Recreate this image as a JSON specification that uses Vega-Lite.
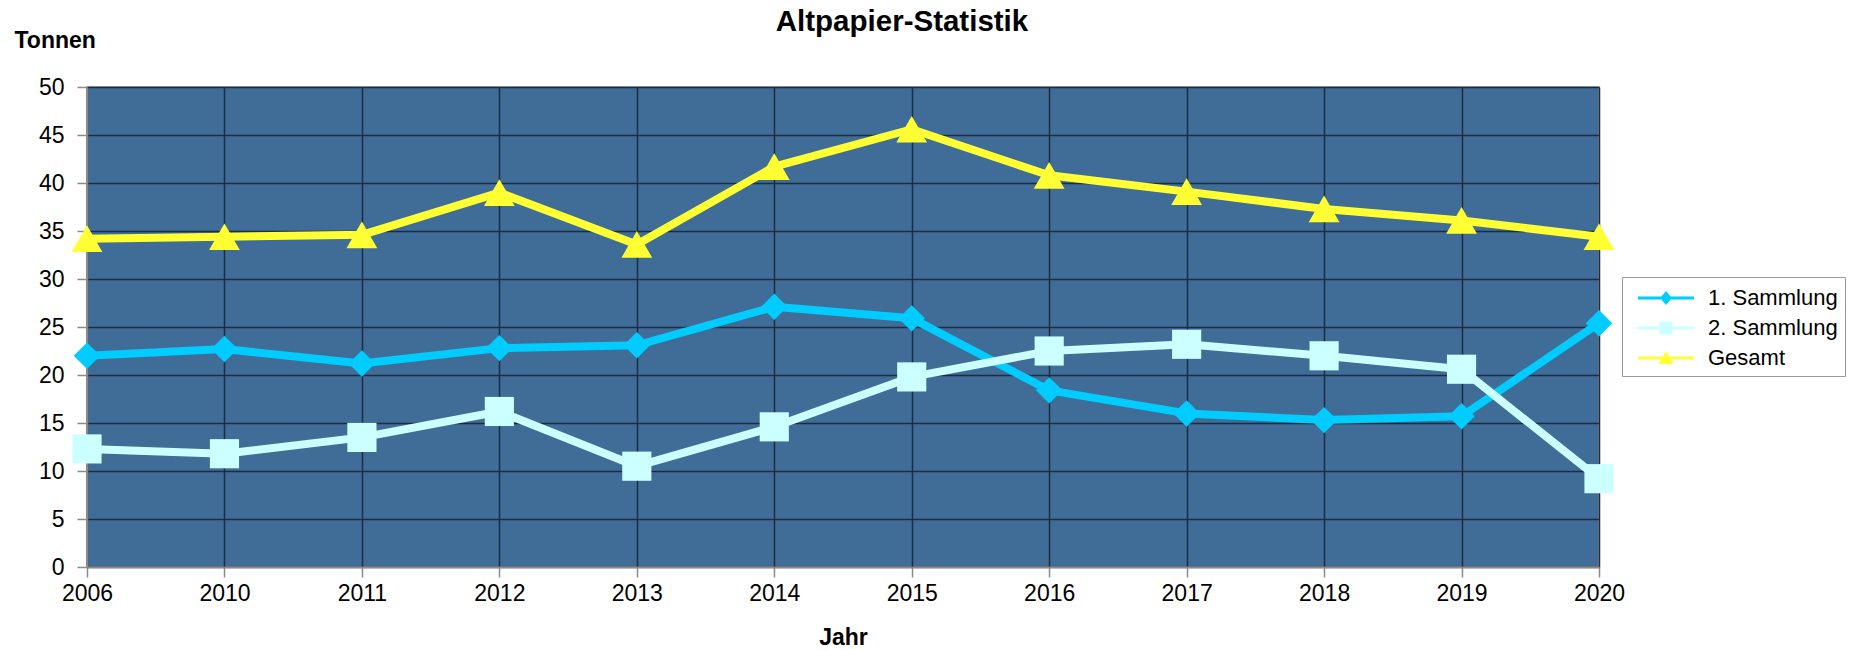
{
  "$schema": "https://vega.github.io/schema/vega-lite/v6.json",
  "width": 1512,
  "height": 480,
  "autosize": {"type": "none"},
  "padding": {"left": 87, "top": 87, "right": 263, "bottom": 83},
  "background": "white",
  "title": {
    "text": "Altpapier-Statistik",
    "font": "Liberation Sans",
    "fontSize": 29.5,
    "fontWeight": "bold",
    "color": "#000000",
    "anchor": "middle",
    "frame": "group",
    "dx": 59,
    "dy": 35,
    "baseline": "alphabetic",
    "offset": 4
  },
  "config": {
    "font": "Liberation Sans",
    "view": {"fill": "#3f6d97", "stroke": "#8a8a8a", "strokeWidth": 1.5},
    "axis": {
      "labelFont": "Liberation Sans",
      "labelFontSize": 23,
      "labelColor": "#000000",
      "titleFont": "Liberation Sans",
      "titleFontSize": 23,
      "titleFontWeight": "bold",
      "titleColor": "#000000",
      "gridColor": "#1c2d40",
      "gridWidth": 1.5,
      "gridOpacity": 1,
      "domainColor": "#8a8a8a",
      "domainWidth": 1.5,
      "tickColor": "#8a8a8a",
      "tickWidth": 1.5,
      "tickSize": 10
    }
  },
  "data": {
    "values": [
      {"Jahr": "2006", "Serie": "1. Sammlung", "Tonnen": 22.0},
      {"Jahr": "2010", "Serie": "1. Sammlung", "Tonnen": 22.7},
      {"Jahr": "2011", "Serie": "1. Sammlung", "Tonnen": 21.2},
      {"Jahr": "2012", "Serie": "1. Sammlung", "Tonnen": 22.8},
      {"Jahr": "2013", "Serie": "1. Sammlung", "Tonnen": 23.1},
      {"Jahr": "2014", "Serie": "1. Sammlung", "Tonnen": 27.1},
      {"Jahr": "2015", "Serie": "1. Sammlung", "Tonnen": 25.9},
      {"Jahr": "2016", "Serie": "1. Sammlung", "Tonnen": 18.4},
      {"Jahr": "2017", "Serie": "1. Sammlung", "Tonnen": 16.0},
      {"Jahr": "2018", "Serie": "1. Sammlung", "Tonnen": 15.3},
      {"Jahr": "2019", "Serie": "1. Sammlung", "Tonnen": 15.7},
      {"Jahr": "2020", "Serie": "1. Sammlung", "Tonnen": 25.4},
      {"Jahr": "2006", "Serie": "2. Sammlung", "Tonnen": 12.3},
      {"Jahr": "2010", "Serie": "2. Sammlung", "Tonnen": 11.8},
      {"Jahr": "2011", "Serie": "2. Sammlung", "Tonnen": 13.5},
      {"Jahr": "2012", "Serie": "2. Sammlung", "Tonnen": 16.2},
      {"Jahr": "2013", "Serie": "2. Sammlung", "Tonnen": 10.5},
      {"Jahr": "2014", "Serie": "2. Sammlung", "Tonnen": 14.6},
      {"Jahr": "2015", "Serie": "2. Sammlung", "Tonnen": 19.8},
      {"Jahr": "2016", "Serie": "2. Sammlung", "Tonnen": 22.5},
      {"Jahr": "2017", "Serie": "2. Sammlung", "Tonnen": 23.2},
      {"Jahr": "2018", "Serie": "2. Sammlung", "Tonnen": 22.0},
      {"Jahr": "2019", "Serie": "2. Sammlung", "Tonnen": 20.6},
      {"Jahr": "2020", "Serie": "2. Sammlung", "Tonnen": 9.2},
      {"Jahr": "2006", "Serie": "Gesamt", "Tonnen": 34.2},
      {"Jahr": "2010", "Serie": "Gesamt", "Tonnen": 34.4},
      {"Jahr": "2011", "Serie": "Gesamt", "Tonnen": 34.6},
      {"Jahr": "2012", "Serie": "Gesamt", "Tonnen": 39.0},
      {"Jahr": "2013", "Serie": "Gesamt", "Tonnen": 33.6},
      {"Jahr": "2014", "Serie": "Gesamt", "Tonnen": 41.7},
      {"Jahr": "2015", "Serie": "Gesamt", "Tonnen": 45.6},
      {"Jahr": "2016", "Serie": "Gesamt", "Tonnen": 40.8},
      {"Jahr": "2017", "Serie": "Gesamt", "Tonnen": 39.1},
      {"Jahr": "2018", "Serie": "Gesamt", "Tonnen": 37.3},
      {"Jahr": "2019", "Serie": "Gesamt", "Tonnen": 36.1},
      {"Jahr": "2020", "Serie": "Gesamt", "Tonnen": 34.4}
    ]
  },
  "encoding": {
    "x": {
      "field": "Jahr",
      "type": "ordinal",
      "scale": {"type": "point", "padding": 0},
      "axis": {
        "labelAngle": 0,
        "grid": true,
        "labelPadding": 5,
        "title": "Jahr",
        "titleBaseline": "middle",
        "titleY": 70
      }
    },
    "y": {
      "field": "Tonnen",
      "type": "quantitative",
      "scale": {"domain": [0, 50], "nice": false, "zero": true},
      "axis": {
        "values": [0, 5, 10, 15, 20, 25, 30, 35, 40, 45, 50],
        "grid": true,
        "labelPadding": 13,
        "title": "Tonnen",
        "titleAngle": 0,
        "titleAlign": "left",
        "titleBaseline": "middle",
        "titleX": -73,
        "titleY": -47
      }
    }
  },
  "layer": [
    {
      "transform": [{"filter": "datum.Serie === '1. Sammlung'"}],
      "mark": {"type": "line", "strokeWidth": 8, "strokeJoin": "round", "color": "#00ccff"}
    },
    {
      "transform": [{"filter": "datum.Serie === '2. Sammlung'"}],
      "mark": {"type": "line", "strokeWidth": 8, "strokeJoin": "round", "color": "#ccffff"}
    },
    {
      "transform": [{"filter": "datum.Serie === 'Gesamt'"}],
      "mark": {"type": "line", "strokeWidth": 8, "strokeJoin": "round", "color": "#ffff33"}
    },
    {
      "transform": [{"filter": "datum.Serie === '1. Sammlung'"}],
      "mark": {"type": "point", "shape": "diamond", "filled": true, "color": "#00ccff", "opacity": 1, "size": 700, "strokeWidth": 0}
    },
    {
      "transform": [{"filter": "datum.Serie === '2. Sammlung'"}],
      "mark": {"type": "point", "shape": "square", "filled": true, "color": "#ccffff", "opacity": 1, "size": 850, "strokeWidth": 0}
    },
    {
      "transform": [{"filter": "datum.Serie === 'Gesamt'"}],
      "mark": {"type": "point", "shape": "triangle-up", "filled": true, "color": "#ffff33", "opacity": 1, "size": 950, "strokeWidth": 0}
    },
    {
      "transform": [{"filter": "false"}],
      "mark": {"type": "point", "filled": true, "opacity": 1, "strokeWidth": 0},
      "encoding": {
        "color": {
          "field": "Serie",
          "type": "nominal",
          "scale": {
            "domain": ["1. Sammlung", "2. Sammlung", "Gesamt"],
            "range": ["#00ccff", "#ccffff", "#ffff33"]
          },
          "legend": {
            "title": null,
            "orient": "none",
            "legendX": 1535,
            "legendY": 190,
            "padding": 7,
            "strokeColor": "#999999",
            "fillColor": "#ffffff",
            "labelFont": "Liberation Sans",
            "labelFontSize": 22,
            "labelColor": "#000000",
            "symbolSize": 784,
            "symbolOffset": 23,
            "labelOffset": 28,
            "rowPadding": 5,
            "symbolStrokeWidth": 0,
            "symbolOpacity": 1
          }
        },
        "shape": {
          "field": "Serie",
          "type": "nominal",
          "scale": {
            "domain": ["1. Sammlung", "2. Sammlung", "Gesamt"],
            "range": [
              "M-2,-0.11L2,-0.11L2,0.11L-2,0.11Z M0,-0.5L0.42,0L0,0.5L-0.42,0Z",
              "M-2,-0.11L2,-0.11L2,0.11L-2,0.11Z M-0.46,-0.46L0.46,-0.46L0.46,0.46L-0.46,0.46Z",
              "M-2,-0.11L2,-0.11L2,0.11L-2,0.11Z M0,-0.5L0.54,0.43L-0.54,0.43Z"
            ]
          },
          "legend": {
            "title": null,
            "orient": "none",
            "legendX": 1535,
            "legendY": 190,
            "padding": 7,
            "strokeColor": "#999999",
            "fillColor": "#ffffff",
            "labelFont": "Liberation Sans",
            "labelFontSize": 22,
            "labelColor": "#000000",
            "symbolSize": 784,
            "symbolOffset": 23,
            "labelOffset": 28,
            "rowPadding": 5,
            "symbolStrokeWidth": 0,
            "symbolOpacity": 1
          }
        }
      }
    }
  ]
}
